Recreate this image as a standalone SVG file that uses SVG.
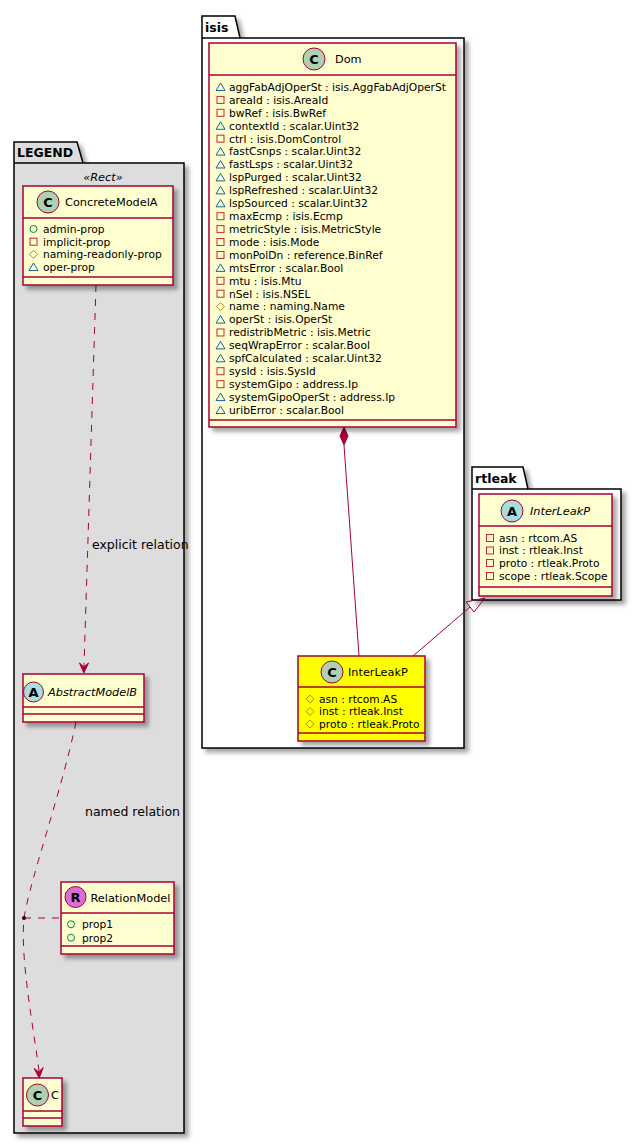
<svg xmlns="http://www.w3.org/2000/svg" xmlns:xlink="http://www.w3.org/1999/xlink" width="640" height="1145" viewBox="0 0 640 1145">
<style>
text{font-family:"DejaVu Sans",sans-serif;fill:#000}
.pkg{fill:#fff;stroke:#000;stroke-width:1.5}
.pkgt{font-size:12.5px;font-weight:bold}
.cls{fill:#FEFECE;stroke:#A80036;stroke-width:1.5}
.ylw{fill:#FFFF00;stroke:#A80036;stroke-width:1.5}
.sep{stroke:#A80036;stroke-width:1.5;fill:none}
.name{font-size:11.3px}
.it{font-style:italic}
.attr{font-size:10.7px}
.lbl{font-size:12.5px}
.spot{stroke:#A80036;stroke-width:1}
.spl{font-size:13px;font-weight:bold;text-anchor:middle}
.edge{stroke:#A80036;stroke-width:1;fill:none}
.dash{stroke-dasharray:7,7}
.pub{fill:none;stroke:#038048;stroke-width:1}
.priv{fill:none;stroke:#C82930;stroke-width:1}
.prot{fill:none;stroke:#B38D22;stroke-width:1}
.pkv{fill:none;stroke:#1963A0;stroke-width:1}
</style>
<defs>
<filter id="sh" x="-10%" y="-10%" width="130%" height="130%">
<feGaussianBlur in="SourceAlpha" stdDeviation="2"/>
<feOffset dx="4" dy="4" result="o"/>
<feFlood flood-color="#000" flood-opacity="0.35"/>
<feComposite in2="o" operator="in" result="s"/>
<feMerge><feMergeNode in="s"/><feMergeNode in="SourceGraphic"/></feMerge>
</filter>
<circle id="pub" r="3.5" class="pub"/>
<rect id="priv" x="-3.5" y="-3.5" width="7" height="7" class="priv"/>
<polygon id="prot" points="0,-4 4,0 0,4 -4,0" class="prot"/>
<polygon id="pkv" points="0,-4 4.5,3.5 -4.5,3.5" class="pkv"/>
</defs>

<!-- packages -->
<g id="pkg-legend">
<path class="pkg" filter="url(#sh)" fill="#DDDDDD" style="fill:#DDDDDD" d="M14,142 L77,142 L83,163 L184,163 L184,1133 L14,1133 Z"/>
<line x1="14" y1="163" x2="83" y2="163" stroke="#000" stroke-width="1.5"/>
<text class="pkgt" x="17" y="157">LEGEND</text>
<text class="name it" x="103" y="181" text-anchor="middle">«Rect»</text>
</g>
<g id="pkg-isis">
<path class="pkg" filter="url(#sh)" d="M202,16 L235,16 L240,38 L464,38 L464,748 L202,748 Z"/>
<line x1="202" y1="38" x2="240" y2="38" stroke="#000" stroke-width="1.5"/>
<text class="pkgt" x="205" y="31.5">isis</text>
</g>
<g id="pkg-rtleak">
<path class="pkg" filter="url(#sh)" d="M472,467 L523,467 L528,489 L621,489 L621,600 L472,600 Z"/>
<line x1="472" y1="489" x2="528" y2="489" stroke="#000" stroke-width="1.5"/>
<text class="pkgt" x="475" y="482.5">rtleak</text>
</g>

<!-- connectors -->
<g id="connectors">
<path class="edge dash" d="M96,285 L84,666"/>
<polygon fill="#A80036" stroke="#A80036" points="83.8,673 79.5,663 83.9,667 88.5,663"/>
<text class="lbl" x="92" y="549">explicit relation</text>
<path class="edge dash" d="M76,722 C62,790 30,880 24,918 C20,960 34,1030 39,1071"/>
<polygon fill="#A80036" stroke="#A80036" points="39.2,1078 34.2,1068.5 38.8,1072 43.2,1067.5"/>
<text class="lbl" x="85" y="816">named relation</text>
<circle cx="24" cy="918" r="2" fill="#000"/>
<path class="edge dash" d="M24,918 L61,918"/>
<polygon fill="#A80036" stroke="#A80036" points="344,427 348,436 344,445 340,436"/>
<path class="edge" d="M344,445 L359,656"/>
<path class="edge" d="M413,656 L470,607"/>
<polygon fill="none" stroke="#A80036" stroke-width="1" points="485,598 466,602 474,612"/>
</g>

<!-- nodes -->
<g id="ConcreteModelA">
<rect class="cls" filter="url(#sh)" x="23" y="186" width="150" height="99"/>
<line class="sep" x1="23" y1="218" x2="173" y2="218"/>
<line class="sep" x1="23" y1="277" x2="173" y2="277"/>
<circle class="spot" cx="48" cy="202" r="11" fill="#ADD1B2"/>
<text class="spl" x="48" y="206.7">C</text>
<text class="name" x="65" y="206">ConcreteModelA</text>
<use xlink:href="#pub" x="33.5" y="229"/><text class="attr" x="43" y="232.8">admin-prop</text>
<use xlink:href="#priv" x="33.5" y="241.7"/><text class="attr" x="43" y="245.5">implicit-prop</text>
<use xlink:href="#prot" x="33.5" y="254.3"/><text class="attr" x="43" y="258.1">naming-readonly-prop</text>
<use xlink:href="#pkv" x="33.5" y="267"/><text class="attr" x="43" y="270.8">oper-prop</text>
</g>

<g id="AbstractModelB">
<rect class="cls" filter="url(#sh)" x="23" y="674" width="121" height="48"/>
<line class="sep" x1="23" y1="707" x2="144" y2="707"/>
<line class="sep" x1="23" y1="714" x2="144" y2="714"/>
<circle class="spot" cx="33.5" cy="692" r="10" fill="#A9DCDF"/>
<text class="spl" x="33.5" y="696.7">A</text>
<text class="name it" x="48" y="696">AbstractModelB</text>
</g>

<g id="RelationModel">
<rect class="cls" filter="url(#sh)" x="61" y="882" width="113" height="72"/>
<line class="sep" x1="61" y1="913" x2="174" y2="913"/>
<line class="sep" x1="61" y1="946" x2="174" y2="946"/>
<circle class="spot" cx="75.5" cy="897" r="10.5" fill="#DA70D6"/>
<text class="spl" x="75.5" y="901.7">R</text>
<text class="name" x="90.5" y="901.5">RelationModel</text>
<use xlink:href="#pub" x="71" y="924.3"/><text class="attr" x="82" y="928.1">prop1</text>
<use xlink:href="#pub" x="71" y="937.7"/><text class="attr" x="82" y="941.5">prop2</text>
</g>

<g id="C">
<rect class="cls" filter="url(#sh)" x="23" y="1078" width="39" height="48"/>
<line class="sep" x1="23" y1="1111" x2="62" y2="1111"/>
<line class="sep" x1="23" y1="1118" x2="62" y2="1118"/>
<circle class="spot" cx="37.5" cy="1095" r="11" fill="#ADD1B2"/>
<text class="spl" x="37.5" y="1099.7">C</text>
<text class="name" x="51" y="1099">C</text>
</g>

<g id="Dom">
<rect class="cls" filter="url(#sh)" x="209" y="43" width="247" height="384"/>
<line class="sep" x1="209" y1="75" x2="456" y2="75"/>
<line class="sep" x1="209" y1="420" x2="456" y2="420"/>
<circle class="spot" cx="314" cy="59" r="11" fill="#ADD1B2"/>
<text class="spl" x="314" y="63.7">C</text>
<text class="name" x="335" y="63">Dom</text>
<use xlink:href="#pkv" x="220.5" y="87"/><text class="attr" x="229" y="90.8">aggFabAdjOperSt : isis.AggFabAdjOperSt</text>
<use xlink:href="#priv" x="220.5" y="99.9"/><text class="attr" x="229" y="103.7">areaId : isis.AreaId</text>
<use xlink:href="#priv" x="220.5" y="112.8"/><text class="attr" x="229" y="116.6">bwRef : isis.BwRef</text>
<use xlink:href="#pkv" x="220.5" y="125.8"/><text class="attr" x="229" y="129.6">contextId : scalar.Uint32</text>
<use xlink:href="#priv" x="220.5" y="138.7"/><text class="attr" x="229" y="142.5">ctrl : isis.DomControl</text>
<use xlink:href="#pkv" x="220.5" y="151.6"/><text class="attr" x="229" y="155.4">fastCsnps : scalar.Uint32</text>
<use xlink:href="#pkv" x="220.5" y="164.5"/><text class="attr" x="229" y="168.3">fastLsps : scalar.Uint32</text>
<use xlink:href="#pkv" x="220.5" y="177.4"/><text class="attr" x="229" y="181.2">lspPurged : scalar.Uint32</text>
<use xlink:href="#pkv" x="220.5" y="190.4"/><text class="attr" x="229" y="194.2">lspRefreshed : scalar.Uint32</text>
<use xlink:href="#pkv" x="220.5" y="203.3"/><text class="attr" x="229" y="207.1">lspSourced : scalar.Uint32</text>
<use xlink:href="#priv" x="220.5" y="216.2"/><text class="attr" x="229" y="220">maxEcmp : isis.Ecmp</text>
<use xlink:href="#priv" x="220.5" y="229.1"/><text class="attr" x="229" y="232.9">metricStyle : isis.MetricStyle</text>
<use xlink:href="#priv" x="220.5" y="242"/><text class="attr" x="229" y="245.8">mode : isis.Mode</text>
<use xlink:href="#priv" x="220.5" y="255"/><text class="attr" x="229" y="258.8">monPolDn : reference.BinRef</text>
<use xlink:href="#pkv" x="220.5" y="267.9"/><text class="attr" x="229" y="271.7">mtsError : scalar.Bool</text>
<use xlink:href="#priv" x="220.5" y="280.8"/><text class="attr" x="229" y="284.6">mtu : isis.Mtu</text>
<use xlink:href="#priv" x="220.5" y="293.7"/><text class="attr" x="229" y="297.5">nSel : isis.NSEL</text>
<use xlink:href="#prot" x="220.5" y="306.6"/><text class="attr" x="229" y="310.4">name : naming.Name</text>
<use xlink:href="#pkv" x="220.5" y="319.6"/><text class="attr" x="229" y="323.4">operSt : isis.OperSt</text>
<use xlink:href="#priv" x="220.5" y="332.5"/><text class="attr" x="229" y="336.3">redistribMetric : isis.Metric</text>
<use xlink:href="#pkv" x="220.5" y="345.4"/><text class="attr" x="229" y="349.2">seqWrapError : scalar.Bool</text>
<use xlink:href="#pkv" x="220.5" y="358.3"/><text class="attr" x="229" y="362.1">spfCalculated : scalar.Uint32</text>
<use xlink:href="#priv" x="220.5" y="371.2"/><text class="attr" x="229" y="375">sysId : isis.SysId</text>
<use xlink:href="#priv" x="220.5" y="384.2"/><text class="attr" x="229" y="388">systemGipo : address.Ip</text>
<use xlink:href="#pkv" x="220.5" y="397.1"/><text class="attr" x="229" y="400.9">systemGipoOperSt : address.Ip</text>
<use xlink:href="#pkv" x="220.5" y="410"/><text class="attr" x="229" y="413.8">uribError : scalar.Bool</text>
</g>

<g id="isis-InterLeakP">
<rect class="ylw" filter="url(#sh)" x="298" y="656" width="127" height="85"/>
<line class="sep" x1="298" y1="687" x2="425" y2="687"/>
<line class="sep" x1="298" y1="733" x2="425" y2="733"/>
<circle class="spot" cx="332" cy="672" r="11" fill="#ADD1B2"/>
<text class="spl" x="332" y="676.7">C</text>
<text class="name" x="348" y="676">InterLeakP</text>
<use xlink:href="#prot" x="310" y="699"/><text class="attr" x="319" y="702.8">asn : rtcom.AS</text>
<use xlink:href="#prot" x="310" y="711.5"/><text class="attr" x="319" y="715.3">inst : rtleak.Inst</text>
<use xlink:href="#prot" x="310" y="724"/><text class="attr" x="319" y="727.8">proto : rtleak.Proto</text>
</g>

<g id="rtleak-InterLeakP">
<rect class="cls" filter="url(#sh)" x="479" y="494" width="133" height="102"/>
<line class="sep" x1="479" y1="526" x2="612" y2="526"/>
<line class="sep" x1="479" y1="587" x2="612" y2="587"/>
<circle class="spot" cx="512" cy="511" r="11" fill="#A9DCDF"/>
<text class="spl" x="512" y="515.7">A</text>
<text class="name it" x="530" y="515">InterLeakP</text>
<use xlink:href="#priv" x="490" y="538"/><text class="attr" x="499" y="541.8">asn : rtcom.AS</text>
<use xlink:href="#priv" x="490" y="550.5"/><text class="attr" x="499" y="554.3">inst : rtleak.Inst</text>
<use xlink:href="#priv" x="490" y="563"/><text class="attr" x="499" y="566.8">proto : rtleak.Proto</text>
<use xlink:href="#priv" x="490" y="576"/><text class="attr" x="499" y="579.8">scope : rtleak.Scope</text>
</g>
</svg>
